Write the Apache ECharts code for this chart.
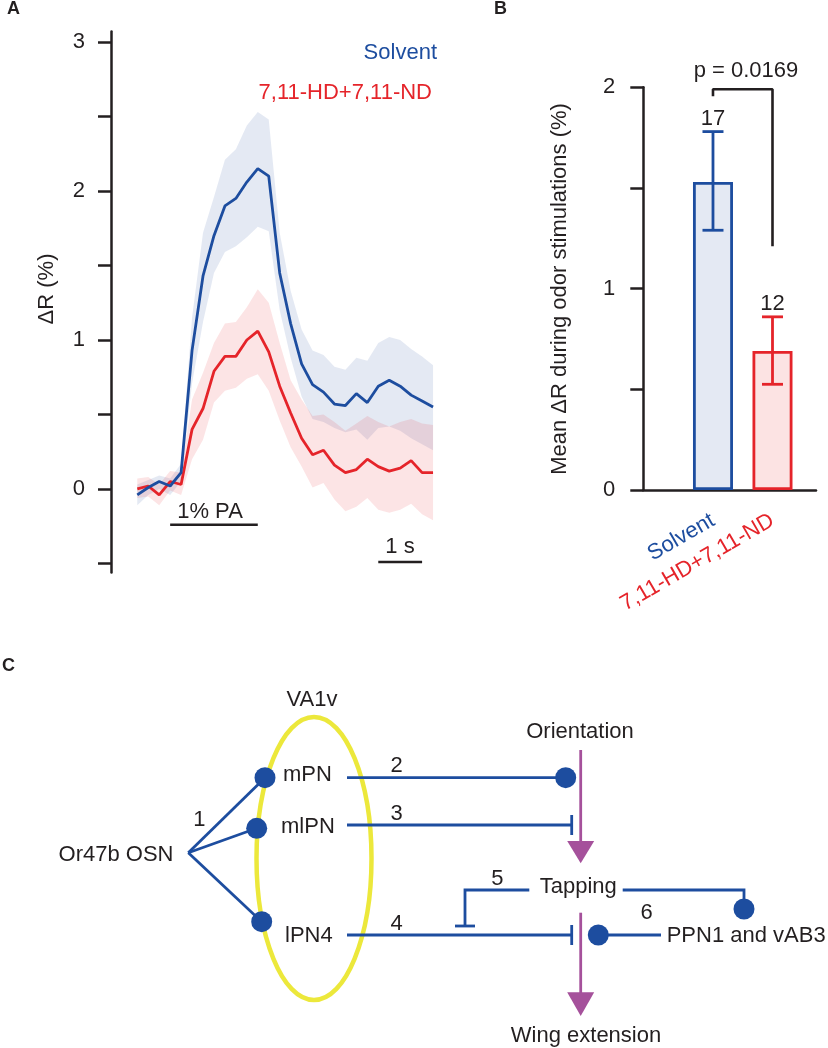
<!DOCTYPE html>
<html><head><meta charset="utf-8">
<script src="https://cdn.jsdelivr.net/npm/echarts@6/dist/echarts.min.js"></script>
<style>html,body{margin:0;padding:0;background:#fff}#c{width:828px;height:1048px}</style>
</head><body><div id="c"></div>
<script>
// ---------- Panel A data (time in s, ΔR in %) ----------
var timeS = [0,0.25,0.5,0.75,1,1.25,1.5,1.75,2,2.25,2.5,2.75,3,3.25,3.5,3.75,4,4.25,4.5,4.75,5,5.25,5.5,5.75,6,6.25,6.5,6.75];
var blueMean  = [-0.04,0.01,0.05,0.02,0.11,0.93,1.43,1.70,1.90,1.95,2.06,2.15,2.10,1.45,1.11,0.84,0.70,0.65,0.57,0.56,0.64,0.58,0.69,0.73,0.69,0.63,0.59,0.55];
var blueUpper = [0.03,0.06,0.09,0.07,0.17,1.15,1.72,1.96,2.21,2.28,2.44,2.53,2.48,1.72,1.33,1.07,0.93,0.90,0.82,0.80,0.88,0.86,0.98,1.02,1.00,0.94,0.89,0.83];
var blueLower = [-0.11,-0.04,0.00,-0.04,0.05,0.71,1.12,1.45,1.59,1.63,1.69,1.76,1.73,1.20,0.88,0.62,0.47,0.45,0.41,0.38,0.40,0.33,0.41,0.42,0.39,0.34,0.30,0.26];
var redMean   = [0.00,0.02,-0.04,0.05,0.03,0.40,0.54,0.79,0.89,0.89,1.00,1.06,0.92,0.69,0.51,0.34,0.23,0.26,0.16,0.11,0.13,0.20,0.15,0.12,0.14,0.19,0.11,0.11];
var redUpper  = [0.07,0.08,0.03,0.12,0.11,0.60,0.78,0.98,1.11,1.12,1.22,1.34,1.25,0.98,0.73,0.60,0.49,0.50,0.45,0.39,0.44,0.49,0.45,0.42,0.45,0.47,0.44,0.43];
var redLower  = [-0.06,-0.05,-0.11,-0.01,-0.04,0.20,0.33,0.58,0.66,0.68,0.74,0.77,0.66,0.46,0.28,0.15,0.01,0.04,-0.07,-0.15,-0.12,-0.06,-0.14,-0.16,-0.14,-0.10,-0.17,-0.21];
var yTicksA = [-0.5,0,0.5,1,1.5,2,2.5,3];
var yLabelsA = [0,1,2,3];
var odorBar = [[0.75,-0.24],[2.75,-0.24]];
var scaleBar = [[5.5,-0.49],[6.5,-0.49]];
var seriesNames = ['Solvent','7,11-HD+7,11-ND'];

// ---------- Panel B data ----------
var barPos = [1,2];
var barMeans = [1.53,0.69];
var barErrLow = [1.29,0.525];
var barErrHigh = [1.78,0.86];
var barN = [17,12];
var sigBracketX = [1,1,2,2];
var sigBracketY = [1.955,1.99,1.99,1.21];
var pText = 'p = 0.0169';

var BLUE='#1d4d9f', RED='#e5242a', INK='#231f20', PURPLE='#a5519b', YELLOW='#ece83b';
var FF='"Liberation Sans", Arial, Helvetica, sans-serif';

function pairs(xs, ys){ return xs.map(function(x,i){ return [x, ys[i]]; }); }

function txt(x,y,s,opt){
  opt = opt||{};
  return {type:'text', x:x, y:y, rotation:opt.rot||0, z:50,
    style:{text:s, fill:opt.color||INK, fontSize:opt.size||22, fontFamily:FF, fontWeight:opt.weight||'normal',
      textAlign:opt.align||'center', align:opt.align||'center', textVerticalAlign:'middle', verticalAlign:'middle'}};
}
function ln(x1,y1,x2,y2,color,w){ return {type:'line', z:20, shape:{x1:x1,y1:y1,x2:x2,y2:y2}, style:{stroke:color||BLUE, lineWidth:w||2.8}}; }
function pl(pts,color,w){ return {type:'polyline', z:20, shape:{points:pts}, style:{stroke:color||BLUE, lineWidth:w||2.8, fill:null}}; }
function dot(cx,cy){ return {type:'circle', z:21, shape:{cx:cx,cy:cy,r:10.5}, style:{fill:BLUE}}; }
function tri(cx,yb,yt){ return {type:'polygon', z:21, shape:{points:[[cx-13.5,yb],[cx+13.5,yb],[cx,yt]]}, style:{fill:PURPLE}}; }

var graphics = [
  txt(7,9,'A',{weight:'bold',size:18,align:'left'}),
  txt(494,9,'B',{weight:'bold',size:18,align:'left'}),
  txt(2,666,'C',{weight:'bold',size:18,align:'left'}),
  txt(47,289,'ΔR (%)',{rot:Math.PI/2}),
  txt(437,53,seriesNames[0],{color:BLUE,align:'right'}),
  txt(432,93,seriesNames[1],{color:RED,align:'right'}),
  txt(210,512,'1% PA'),
  txt(400,547,'1 s'),
  txt(560,289,'Mean ΔR during odor stimulations (%)',{rot:Math.PI/2}),
  txt(746,71,pText),
  // Panel C diagram
  txt(312,700,'VA1v'),
  {type:'ellipse', z:10, shape:{cx:314,cy:858.5,rx:57.5,ry:141.5}, style:{stroke:YELLOW, lineWidth:4.5, fill:null}},
  ln(188.3,852.7,265,777.7), ln(188.3,852.7,256.7,828.3), ln(188.3,852.7,261.7,921.7),
  dot(265,777.7), dot(256.7,828.3), dot(261.7,921.7),
  txt(199.3,820,'1'),
  txt(173.5,855,'Or47b OSN',{align:'right'}),
  txt(283,775,'mPN',{align:'left'}),
  txt(281,827,'mlPN',{align:'left'}),
  txt(285,936,'lPN4',{align:'left'}),
  ln(347,777.7,565.7,777.7), dot(565.7,777.7), txt(396.7,766,'2'),
  ln(347,825,571.7,825), ln(571.7,815,571.7,835), txt(396.7,814.3,'3'),
  ln(347,935,571.7,935), ln(571.7,925,571.7,945), txt(396.7,924.3,'4'),
  ln(580.7,750,580.7,845,PURPLE,2.8), tri(580.7,841,863.3),
  txt(580,732,'Orientation'),
  txt(578.3,887,'Tapping'),
  pl([[529.3,890],[465,890],[465,926]]), ln(455,926,475,926), txt(497.3,879,'5'),
  pl([[622.7,890],[744,890],[744,909]]), dot(744,909),
  ln(580.7,912.7,580.7,995,PURPLE,2.8), tri(580.7,992.3,1016),
  dot(598.3,935), ln(598.3,935,661,935), txt(646.7,913.3,'6'),
  txt(666.7,936,'PPN1 and vAB3',{align:'left'}),
  txt(586,1036,'Wing extension')
];

// band drawn as one polygon through the axis scale
function bandSeries(lower, upper, color, z){
  return {type:'custom', xAxisIndex:0, yAxisIndex:0, z:z, silent:true,
    data: timeS.map(function(t,i){ return [t, lower[i], upper[i]]; }),
    renderItem:function(params, api){
      if (params.dataIndex !== 0) return null;
      var top = [], bot = [];
      for (var i=0;i<timeS.length;i++){
        top.push(api.coord([timeS[i], upper[i]]));
        bot.push(api.coord([timeS[i], lower[i]]));
      }
      return {type:'polygon', shape:{points: top.concat(bot.reverse())},
        style:{fill:color, opacity:0.12}};
    }};
}

var chart = echarts.init(document.getElementById('c'), null, {renderer:'canvas'});
var axisLineStyle = {color:INK, width:2.5};
var option = {
  animation:false,
  backgroundColor:'#fff',
  textStyle:{fontFamily:FF},
  grid:[
    {left:111, top:31.6, width:333, height:540.8},
    {left:643.3, top:87.3, width:172.7, height:402.7}
  ],
  xAxis:[
    {gridIndex:0, type:'value', min:-0.6, max:7.0, show:false},
    {gridIndex:1, type:'value', min:-0.171, max:2.731,
      axisLine:{show:true, onZero:false, lineStyle:axisLineStyle},
      axisTick:{show:false}, splitLine:{show:false},
      axisLabel:{customValues:barPos, rotate:30, margin:29, fontSize:22, fontFamily:FF,
        formatter:function(v){ return v===1 ? '{b|'+seriesNames[0]+'}' : '{r|'+seriesNames[1]+'}'; },
        rich:{b:{color:BLUE,fontSize:22,fontFamily:FF}, r:{color:RED,fontSize:22,fontFamily:FF}}}}
  ],
  yAxis:[
    {gridIndex:0, type:'value', min:-0.56, max:3.07,
      axisLine:{show:true, onZero:false, lineStyle:axisLineStyle},
      axisTick:{show:true, customValues:yTicksA, length:13, lineStyle:{color:INK,width:2.5}},
      axisLabel:{customValues:yLabelsA, margin:26, fontSize:22, color:INK, fontFamily:FF},
      splitLine:{show:false}},
    {gridIndex:1, type:'value', min:0, max:2, interval:0.5,
      axisLine:{show:true, onZero:false, lineStyle:axisLineStyle},
      axisTick:{show:true, length:13, lineStyle:{color:INK,width:2.5}},
      axisLabel:{margin:28, fontSize:22, color:INK, fontFamily:FF,
        formatter:function(v){ return (v%1===0) ? String(v) : ''; }},
      splitLine:{show:false}}
  ],
  series:[
    bandSeries(blueLower, blueUpper, BLUE, 1),
    bandSeries(redLower, redUpper, RED, 2),
    {type:'line', name:seriesNames[1], xAxisIndex:0, yAxisIndex:0, data:pairs(timeS,redMean),
      symbol:'none', lineStyle:{color:RED, width:2.8}, z:3},
    {type:'line', name:seriesNames[0], xAxisIndex:0, yAxisIndex:0, data:pairs(timeS,blueMean),
      symbol:'none', lineStyle:{color:BLUE, width:2.8}, z:4},
    {type:'line', xAxisIndex:0, yAxisIndex:0, data:odorBar, symbol:'none', lineStyle:{color:INK, width:2.5}, z:5},
    {type:'line', xAxisIndex:0, yAxisIndex:0, data:scaleBar, symbol:'none', lineStyle:{color:INK, width:2.5}, z:5},
    // Panel B
    {type:'bar', xAxisIndex:1, yAxisIndex:1, barWidth:40,
      data:barPos.map(function(x,i){ return {value:[x,barMeans[i]],
        itemStyle:{color:i===0?'#e4e9f3':'#fce3e3', borderColor:i===0?BLUE:RED, borderWidth:2.8}}; }), z:2},
    {type:'custom', xAxisIndex:1, yAxisIndex:1, z:5,
      data:barPos.map(function(x,i){ return [x, barErrLow[i], barErrHigh[i], barN[i]]; }),
      renderItem:function(params, api){
        var x = api.value(0), lo = api.value(1), hi = api.value(2), n = api.value(3);
        var pH = api.coord([x,hi]), pL = api.coord([x,lo]);
        var c = params.dataIndex===0 ? BLUE : RED, hw = 10.5;
        var st = {stroke:c, lineWidth:2.8};
        return {type:'group', children:[
          {type:'line', shape:{x1:pH[0],y1:pH[1],x2:pL[0],y2:pL[1]}, style:st},
          {type:'line', shape:{x1:pH[0]-hw,y1:pH[1],x2:pH[0]+hw,y2:pH[1]}, style:st},
          {type:'line', shape:{x1:pL[0]-hw,y1:pL[1],x2:pL[0]+hw,y2:pL[1]}, style:st},
          {type:'text', x:pH[0], y:pH[1]-13, style:{text:String(n), fill:INK, fontSize:22, fontFamily:FF,
            textAlign:'center', align:'center', textVerticalAlign:'middle', verticalAlign:'middle'}}
        ]};
      }},
    {type:'line', xAxisIndex:1, yAxisIndex:1, data:pairs(sigBracketX,sigBracketY), symbol:'none',
      lineStyle:{color:INK, width:2.6}, z:6}
  ],
  graphic:graphics
};
chart.setOption(option);
</script>
</body></html>
